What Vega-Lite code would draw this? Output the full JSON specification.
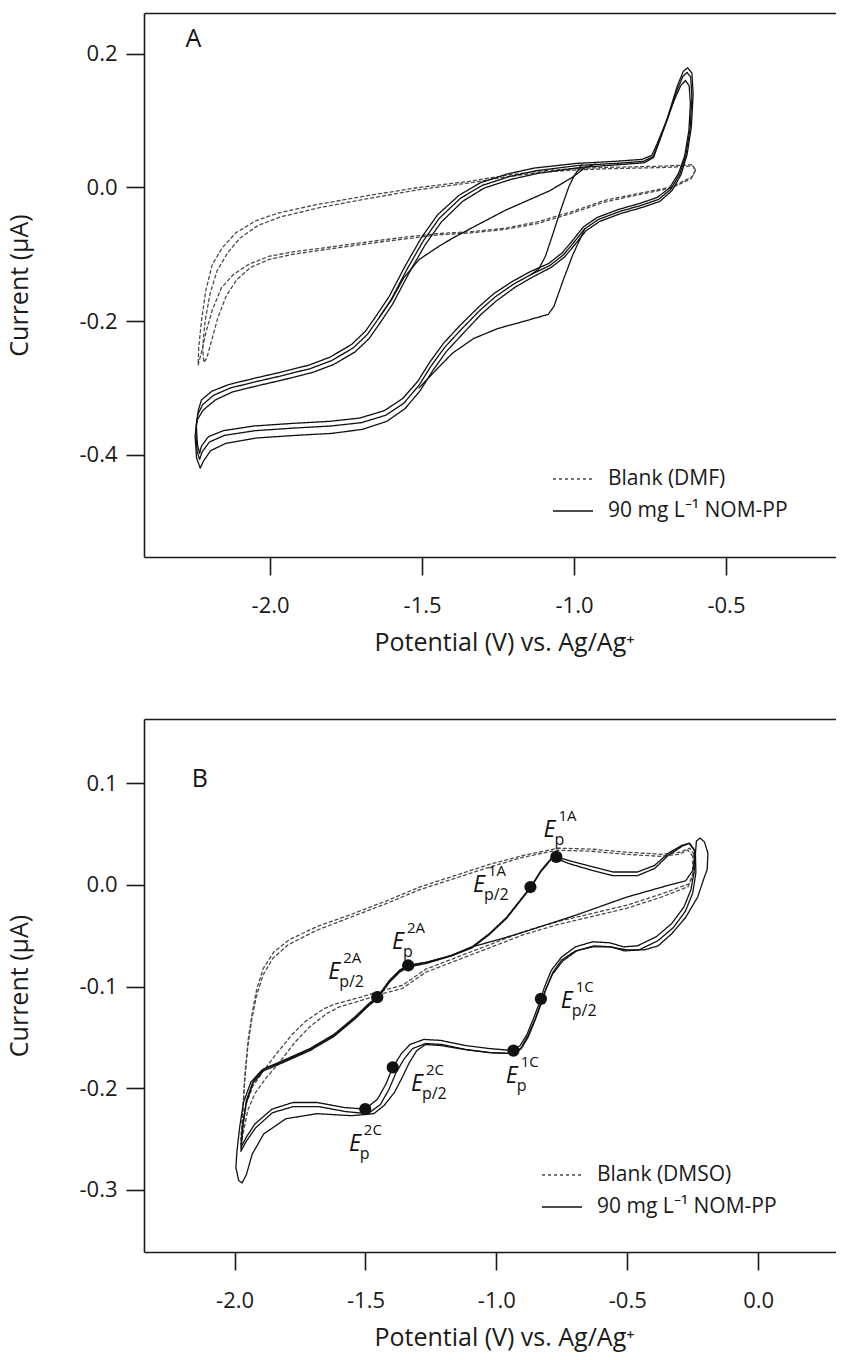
{
"$schema": "https://vega.github.io/schema/vega-lite/v6.json",
"padding": {"left": 7, "top": 13, "right": 0, "bottom": 10},
"background": "white",
"config": {
 "font": "Open Sans",
 "view": {"stroke": null},
 "concat": {"spacing": 64},
 "axis": {"grid": false, "domainColor": "#1a1a1a", "domainWidth": 1.6, "tickColor": "#1a1a1a", "tickWidth": 1.6, "tickSize": 18, "labelFont": "Open Sans", "labelFontSize": 22, "labelColor": "#1a1a1a", "titleFont": "Open Sans", "titleFontSize": 25, "titleFontWeight": "normal", "titleColor": "#1a1a1a"},
 "axisX": {"labelPadding": 20, "titlePadding": 14},
 "axisY": {"labelPadding": 9, "titlePadding": 46},
 "legend": {"labelFont": "Open Sans", "labelFontSize": 21, "labelColor": "#1a1a1a", "labelLimit": 400, "symbolType": "stroke", "symbolSize": 1600, "symbolStrokeWidth": 1.4, "labelOffset": 14, "rowPadding": 1, "padding": 0}
},
"resolve": {"scale": {"color": "independent", "strokeDash": "independent"}},
"datasets": {
"a": [
{"l":"b1","s":"blank","x":-0.600,"y":0.026},{"l":"b1","s":"blank","x":-0.611,"y":0.016},{"l":"b1","s":"blank","x":-0.677,"y":0.001},{"l":"b1","s":"blank","x":-0.786,"y":-0.009},{"l":"b1","s":"blank","x":-0.896,"y":-0.019},{"l":"b1","s":"blank","x":-1.006,"y":-0.036},{"l":"b1","s":"blank","x":-1.116,"y":-0.051},{"l":"b1","s":"blank","x":-1.225,"y":-0.061},{"l":"b1","s":"blank","x":-1.334,"y":-0.066},{"l":"b1","s":"blank","x":-1.444,"y":-0.069},{"l":"b1","s":"blank","x":-1.550,"y":-0.074},{"l":"b1","s":"blank","x":-1.655,"y":-0.080},{"l":"b1","s":"blank","x":-1.750,"y":-0.086},{"l":"b1","s":"blank","x":-1.832,"y":-0.091},{"l":"b1","s":"blank","x":-1.920,"y":-0.096},{"l":"b1","s":"blank","x":-2.003,"y":-0.103},{"l":"b1","s":"blank","x":-2.070,"y":-0.115},{"l":"b1","s":"blank","x":-2.120,"y":-0.130},{"l":"b1","s":"blank","x":-2.160,"y":-0.150},{"l":"b1","s":"blank","x":-2.190,"y":-0.183},{"l":"b1","s":"blank","x":-2.210,"y":-0.215},{"l":"b1","s":"blank","x":-2.225,"y":-0.245},{"l":"b1","s":"blank","x":-2.237,"y":-0.266},{"l":"b1","s":"blank","x":-2.235,"y":-0.240},{"l":"b1","s":"blank","x":-2.226,"y":-0.200},{"l":"b1","s":"blank","x":-2.212,"y":-0.155},{"l":"b1","s":"blank","x":-2.190,"y":-0.115},{"l":"b1","s":"blank","x":-2.157,"y":-0.090},{"l":"b1","s":"blank","x":-2.113,"y":-0.068},{"l":"b1","s":"blank","x":-2.048,"y":-0.050},{"l":"b1","s":"blank","x":-1.971,"y":-0.038},{"l":"b1","s":"blank","x":-1.839,"y":-0.025},{"l":"b1","s":"blank","x":-1.675,"y":-0.012},{"l":"b1","s":"blank","x":-1.510,"y":0.000},{"l":"b1","s":"blank","x":-1.346,"y":0.009},{"l":"b1","s":"blank","x":-1.225,"y":0.018},{"l":"b1","s":"blank","x":-1.100,"y":0.025},{"l":"b1","s":"blank","x":-1.006,"y":0.028},{"l":"b1","s":"blank","x":-0.900,"y":0.030},{"l":"b1","s":"blank","x":-0.786,"y":0.031},{"l":"b1","s":"blank","x":-0.700,"y":0.032},{"l":"b1","s":"blank","x":-0.611,"y":0.034},{"l":"b1","s":"blank","x":-0.600,"y":0.026},
{"l":"b2","s":"blank","x":-0.602,"y":0.024},{"l":"b2","s":"blank","x":-0.615,"y":0.013},{"l":"b2","s":"blank","x":-0.680,"y":-0.001},{"l":"b2","s":"blank","x":-0.790,"y":-0.011},{"l":"b2","s":"blank","x":-0.900,"y":-0.022},{"l":"b2","s":"blank","x":-1.010,"y":-0.039},{"l":"b2","s":"blank","x":-1.120,"y":-0.054},{"l":"b2","s":"blank","x":-1.230,"y":-0.063},{"l":"b2","s":"blank","x":-1.340,"y":-0.068},{"l":"b2","s":"blank","x":-1.450,"y":-0.071},{"l":"b2","s":"blank","x":-1.555,"y":-0.077},{"l":"b2","s":"blank","x":-1.660,"y":-0.083},{"l":"b2","s":"blank","x":-1.755,"y":-0.089},{"l":"b2","s":"blank","x":-1.835,"y":-0.094},{"l":"b2","s":"blank","x":-1.925,"y":-0.100},{"l":"b2","s":"blank","x":-2.005,"y":-0.108},{"l":"b2","s":"blank","x":-2.065,"y":-0.120},{"l":"b2","s":"blank","x":-2.110,"y":-0.138},{"l":"b2","s":"blank","x":-2.145,"y":-0.163},{"l":"b2","s":"blank","x":-2.172,"y":-0.195},{"l":"b2","s":"blank","x":-2.193,"y":-0.230},{"l":"b2","s":"blank","x":-2.208,"y":-0.255},{"l":"b2","s":"blank","x":-2.218,"y":-0.262},{"l":"b2","s":"blank","x":-2.222,"y":-0.240},{"l":"b2","s":"blank","x":-2.214,"y":-0.200},{"l":"b2","s":"blank","x":-2.198,"y":-0.160},{"l":"b2","s":"blank","x":-2.175,"y":-0.125},{"l":"b2","s":"blank","x":-2.140,"y":-0.098},{"l":"b2","s":"blank","x":-2.100,"y":-0.076},{"l":"b2","s":"blank","x":-2.040,"y":-0.057},{"l":"b2","s":"blank","x":-1.965,"y":-0.044},{"l":"b2","s":"blank","x":-1.835,"y":-0.030},{"l":"b2","s":"blank","x":-1.670,"y":-0.016},{"l":"b2","s":"blank","x":-1.505,"y":-0.003},{"l":"b2","s":"blank","x":-1.340,"y":0.007},{"l":"b2","s":"blank","x":-1.220,"y":0.016},{"l":"b2","s":"blank","x":-1.100,"y":0.023},{"l":"b2","s":"blank","x":-1.000,"y":0.026},{"l":"b2","s":"blank","x":-0.895,"y":0.028},{"l":"b2","s":"blank","x":-0.780,"y":0.029},{"l":"b2","s":"blank","x":-0.695,"y":0.030},{"l":"b2","s":"blank","x":-0.608,"y":0.032},{"l":"b2","s":"blank","x":-0.602,"y":0.024},
{"l":"s1","s":"nom","x":-2.243,"y":-0.355},{"l":"s1","s":"nom","x":-2.236,"y":-0.333},{"l":"s1","s":"nom","x":-2.226,"y":-0.318},{"l":"s1","s":"nom","x":-2.192,"y":-0.305},{"l":"s1","s":"nom","x":-2.136,"y":-0.295},{"l":"s1","s":"nom","x":-2.056,"y":-0.286},{"l":"s1","s":"nom","x":-1.979,"y":-0.278},{"l":"s1","s":"nom","x":-1.873,"y":-0.266},{"l":"s1","s":"nom","x":-1.803,"y":-0.254},{"l":"s1","s":"nom","x":-1.732,"y":-0.235},{"l":"s1","s":"nom","x":-1.686,"y":-0.215},{"l":"s1","s":"nom","x":-1.646,"y":-0.189},{"l":"s1","s":"nom","x":-1.608,"y":-0.163},{"l":"s1","s":"nom","x":-1.555,"y":-0.117},{"l":"s1","s":"nom","x":-1.502,"y":-0.075},{"l":"s1","s":"nom","x":-1.449,"y":-0.041},{"l":"s1","s":"nom","x":-1.379,"y":-0.012},{"l":"s1","s":"nom","x":-1.308,"y":0.007},{"l":"s1","s":"nom","x":-1.220,"y":0.020},{"l":"s1","s":"nom","x":-1.131,"y":0.029},{"l":"s1","s":"nom","x":-0.990,"y":0.036},{"l":"s1","s":"nom","x":-0.866,"y":0.039},{"l":"s1","s":"nom","x":-0.776,"y":0.042},{"l":"s1","s":"nom","x":-0.744,"y":0.048},{"l":"s1","s":"nom","x":-0.726,"y":0.066},{"l":"s1","s":"nom","x":-0.698,"y":0.097},{"l":"s1","s":"nom","x":-0.668,"y":0.133},{"l":"s1","s":"nom","x":-0.648,"y":0.153},{"l":"s1","s":"nom","x":-0.633,"y":0.160},{"l":"s1","s":"nom","x":-0.621,"y":0.152},{"l":"s1","s":"nom","x":-0.617,"y":0.125},{"l":"s1","s":"nom","x":-0.622,"y":0.085},{"l":"s1","s":"nom","x":-0.636,"y":0.047},{"l":"s1","s":"nom","x":-0.656,"y":0.021},{"l":"s1","s":"nom","x":-0.686,"y":-0.001},{"l":"s1","s":"nom","x":-0.726,"y":-0.015},{"l":"s1","s":"nom","x":-0.784,"y":-0.024},{"l":"s1","s":"nom","x":-0.854,"y":-0.033},{"l":"s1","s":"nom","x":-0.924,"y":-0.045},{"l":"s1","s":"nom","x":-0.969,"y":-0.059},{"l":"s1","s":"nom","x":-1.004,"y":-0.079},{"l":"s1","s":"nom","x":-1.039,"y":-0.098},{"l":"s1","s":"nom","x":-1.084,"y":-0.114},{"l":"s1","s":"nom","x":-1.144,"y":-0.126},{"l":"s1","s":"nom","x":-1.204,"y":-0.141},{"l":"s1","s":"nom","x":-1.264,"y":-0.159},{"l":"s1","s":"nom","x":-1.314,"y":-0.179},{"l":"s1","s":"nom","x":-1.374,"y":-0.206},{"l":"s1","s":"nom","x":-1.429,"y":-0.233},{"l":"s1","s":"nom","x":-1.474,"y":-0.261},{"l":"s1","s":"nom","x":-1.514,"y":-0.290},{"l":"s1","s":"nom","x":-1.564,"y":-0.316},{"l":"s1","s":"nom","x":-1.624,"y":-0.334},{"l":"s1","s":"nom","x":-1.704,"y":-0.345},{"l":"s1","s":"nom","x":-1.804,"y":-0.350},{"l":"s1","s":"nom","x":-1.924,"y":-0.353},{"l":"s1","s":"nom","x":-2.054,"y":-0.357},{"l":"s1","s":"nom","x":-2.154,"y":-0.364},{"l":"s1","s":"nom","x":-2.203,"y":-0.373},{"l":"s1","s":"nom","x":-2.226,"y":-0.387},{"l":"s1","s":"nom","x":-2.232,"y":-0.398},{"l":"s1","s":"nom","x":-2.239,"y":-0.385},{"l":"s1","s":"nom","x":-2.243,"y":-0.355},
{"l":"s2","s":"nom","x":-2.245,"y":-0.365},{"l":"s2","s":"nom","x":-2.238,"y":-0.340},{"l":"s2","s":"nom","x":-2.222,"y":-0.325},{"l":"s2","s":"nom","x":-2.186,"y":-0.311},{"l":"s2","s":"nom","x":-2.130,"y":-0.300},{"l":"s2","s":"nom","x":-2.050,"y":-0.291},{"l":"s2","s":"nom","x":-1.973,"y":-0.283},{"l":"s2","s":"nom","x":-1.867,"y":-0.271},{"l":"s2","s":"nom","x":-1.797,"y":-0.259},{"l":"s2","s":"nom","x":-1.726,"y":-0.240},{"l":"s2","s":"nom","x":-1.680,"y":-0.220},{"l":"s2","s":"nom","x":-1.640,"y":-0.194},{"l":"s2","s":"nom","x":-1.602,"y":-0.168},{"l":"s2","s":"nom","x":-1.549,"y":-0.122},{"l":"s2","s":"nom","x":-1.496,"y":-0.080},{"l":"s2","s":"nom","x":-1.443,"y":-0.046},{"l":"s2","s":"nom","x":-1.373,"y":-0.016},{"l":"s2","s":"nom","x":-1.302,"y":0.003},{"l":"s2","s":"nom","x":-1.214,"y":0.016},{"l":"s2","s":"nom","x":-1.125,"y":0.025},{"l":"s2","s":"nom","x":-0.984,"y":0.033},{"l":"s2","s":"nom","x":-0.860,"y":0.036},{"l":"s2","s":"nom","x":-0.772,"y":0.039},{"l":"s2","s":"nom","x":-0.740,"y":0.046},{"l":"s2","s":"nom","x":-0.722,"y":0.066},{"l":"s2","s":"nom","x":-0.694,"y":0.100},{"l":"s2","s":"nom","x":-0.663,"y":0.143},{"l":"s2","s":"nom","x":-0.642,"y":0.166},{"l":"s2","s":"nom","x":-0.628,"y":0.172},{"l":"s2","s":"nom","x":-0.616,"y":0.165},{"l":"s2","s":"nom","x":-0.612,"y":0.135},{"l":"s2","s":"nom","x":-0.618,"y":0.088},{"l":"s2","s":"nom","x":-0.632,"y":0.048},{"l":"s2","s":"nom","x":-0.652,"y":0.020},{"l":"s2","s":"nom","x":-0.682,"y":-0.003},{"l":"s2","s":"nom","x":-0.722,"y":-0.018},{"l":"s2","s":"nom","x":-0.780,"y":-0.027},{"l":"s2","s":"nom","x":-0.850,"y":-0.036},{"l":"s2","s":"nom","x":-0.920,"y":-0.048},{"l":"s2","s":"nom","x":-0.965,"y":-0.062},{"l":"s2","s":"nom","x":-1.000,"y":-0.082},{"l":"s2","s":"nom","x":-1.035,"y":-0.101},{"l":"s2","s":"nom","x":-1.080,"y":-0.117},{"l":"s2","s":"nom","x":-1.140,"y":-0.130},{"l":"s2","s":"nom","x":-1.200,"y":-0.145},{"l":"s2","s":"nom","x":-1.260,"y":-0.164},{"l":"s2","s":"nom","x":-1.310,"y":-0.184},{"l":"s2","s":"nom","x":-1.370,"y":-0.212},{"l":"s2","s":"nom","x":-1.425,"y":-0.239},{"l":"s2","s":"nom","x":-1.470,"y":-0.267},{"l":"s2","s":"nom","x":-1.510,"y":-0.296},{"l":"s2","s":"nom","x":-1.560,"y":-0.323},{"l":"s2","s":"nom","x":-1.620,"y":-0.341},{"l":"s2","s":"nom","x":-1.700,"y":-0.352},{"l":"s2","s":"nom","x":-1.800,"y":-0.357},{"l":"s2","s":"nom","x":-1.920,"y":-0.360},{"l":"s2","s":"nom","x":-2.050,"y":-0.364},{"l":"s2","s":"nom","x":-2.150,"y":-0.371},{"l":"s2","s":"nom","x":-2.200,"y":-0.381},{"l":"s2","s":"nom","x":-2.224,"y":-0.396},{"l":"s2","s":"nom","x":-2.232,"y":-0.407},{"l":"s2","s":"nom","x":-2.240,"y":-0.395},{"l":"s2","s":"nom","x":-2.245,"y":-0.365},
{"l":"s3","s":"nom","x":-2.247,"y":-0.372},{"l":"s3","s":"nom","x":-2.240,"y":-0.348},{"l":"s3","s":"nom","x":-2.220,"y":-0.333},{"l":"s3","s":"nom","x":-2.180,"y":-0.318},{"l":"s3","s":"nom","x":-2.124,"y":-0.306},{"l":"s3","s":"nom","x":-2.044,"y":-0.297},{"l":"s3","s":"nom","x":-1.967,"y":-0.289},{"l":"s3","s":"nom","x":-1.861,"y":-0.277},{"l":"s3","s":"nom","x":-1.791,"y":-0.265},{"l":"s3","s":"nom","x":-1.720,"y":-0.246},{"l":"s3","s":"nom","x":-1.674,"y":-0.226},{"l":"s3","s":"nom","x":-1.634,"y":-0.200},{"l":"s3","s":"nom","x":-1.596,"y":-0.174},{"l":"s3","s":"nom","x":-1.543,"y":-0.128},{"l":"s3","s":"nom","x":-1.490,"y":-0.086},{"l":"s3","s":"nom","x":-1.437,"y":-0.052},{"l":"s3","s":"nom","x":-1.367,"y":-0.021},{"l":"s3","s":"nom","x":-1.296,"y":-0.001},{"l":"s3","s":"nom","x":-1.208,"y":0.012},{"l":"s3","s":"nom","x":-1.119,"y":0.021},{"l":"s3","s":"nom","x":-0.978,"y":0.030},{"l":"s3","s":"nom","x":-0.854,"y":0.034},{"l":"s3","s":"nom","x":-0.768,"y":0.037},{"l":"s3","s":"nom","x":-0.738,"y":0.045},{"l":"s3","s":"nom","x":-0.720,"y":0.068},{"l":"s3","s":"nom","x":-0.692,"y":0.105},{"l":"s3","s":"nom","x":-0.660,"y":0.152},{"l":"s3","s":"nom","x":-0.640,"y":0.174},{"l":"s3","s":"nom","x":-0.626,"y":0.179},{"l":"s3","s":"nom","x":-0.612,"y":0.171},{"l":"s3","s":"nom","x":-0.608,"y":0.140},{"l":"s3","s":"nom","x":-0.614,"y":0.090},{"l":"s3","s":"nom","x":-0.628,"y":0.049},{"l":"s3","s":"nom","x":-0.648,"y":0.019},{"l":"s3","s":"nom","x":-0.678,"y":-0.005},{"l":"s3","s":"nom","x":-0.718,"y":-0.021},{"l":"s3","s":"nom","x":-0.776,"y":-0.030},{"l":"s3","s":"nom","x":-0.846,"y":-0.039},{"l":"s3","s":"nom","x":-0.916,"y":-0.051},{"l":"s3","s":"nom","x":-0.961,"y":-0.065},{"l":"s3","s":"nom","x":-0.996,"y":-0.085},{"l":"s3","s":"nom","x":-1.031,"y":-0.104},{"l":"s3","s":"nom","x":-1.076,"y":-0.120},{"l":"s3","s":"nom","x":-1.136,"y":-0.134},{"l":"s3","s":"nom","x":-1.196,"y":-0.150},{"l":"s3","s":"nom","x":-1.256,"y":-0.170},{"l":"s3","s":"nom","x":-1.306,"y":-0.190},{"l":"s3","s":"nom","x":-1.366,"y":-0.219},{"l":"s3","s":"nom","x":-1.421,"y":-0.246},{"l":"s3","s":"nom","x":-1.466,"y":-0.275},{"l":"s3","s":"nom","x":-1.506,"y":-0.304},{"l":"s3","s":"nom","x":-1.556,"y":-0.331},{"l":"s3","s":"nom","x":-1.616,"y":-0.350},{"l":"s3","s":"nom","x":-1.696,"y":-0.362},{"l":"s3","s":"nom","x":-1.796,"y":-0.368},{"l":"s3","s":"nom","x":-1.916,"y":-0.371},{"l":"s3","s":"nom","x":-2.046,"y":-0.375},{"l":"s3","s":"nom","x":-2.146,"y":-0.383},{"l":"s3","s":"nom","x":-2.196,"y":-0.394},{"l":"s3","s":"nom","x":-2.220,"y":-0.410},{"l":"s3","s":"nom","x":-2.230,"y":-0.420},{"l":"s3","s":"nom","x":-2.242,"y":-0.405},{"l":"s3","s":"nom","x":-2.247,"y":-0.372},
{"l":"t1","s":"nom","x":-1.640,"y":-0.194},{"l":"t1","s":"nom","x":-1.600,"y":-0.168},{"l":"t1","s":"nom","x":-1.560,"y":-0.135},{"l":"t1","s":"nom","x":-1.510,"y":-0.108},{"l":"t1","s":"nom","x":-1.444,"y":-0.088},{"l":"t1","s":"nom","x":-1.400,"y":-0.076},{"l":"t1","s":"nom","x":-1.334,"y":-0.060},{"l":"t1","s":"nom","x":-1.225,"y":-0.034},{"l":"t1","s":"nom","x":-1.150,"y":-0.019},{"l":"t1","s":"nom","x":-1.080,"y":-0.005},{"l":"t1","s":"nom","x":-1.006,"y":0.015},{"l":"t1","s":"nom","x":-0.962,"y":0.030},{"l":"t1","s":"nom","x":-0.930,"y":0.035},
{"l":"t2","s":"nom","x":-0.975,"y":0.034},{"l":"t2","s":"nom","x":-1.000,"y":0.017},{"l":"t2","s":"nom","x":-1.017,"y":0.001},{"l":"t2","s":"nom","x":-1.044,"y":-0.034},{"l":"t2","s":"nom","x":-1.072,"y":-0.073},{"l":"t2","s":"nom","x":-1.094,"y":-0.103},{"l":"t2","s":"nom","x":-1.116,"y":-0.122},{"l":"t2","s":"nom","x":-1.140,"y":-0.130},
{"l":"t3","s":"nom","x":-0.965,"y":-0.062},{"l":"t3","s":"nom","x":-0.975,"y":-0.072},{"l":"t3","s":"nom","x":-1.006,"y":-0.103},{"l":"t3","s":"nom","x":-1.039,"y":-0.143},{"l":"t3","s":"nom","x":-1.066,"y":-0.178},{"l":"t3","s":"nom","x":-1.085,"y":-0.190},{"l":"t3","s":"nom","x":-1.170,"y":-0.201},{"l":"t3","s":"nom","x":-1.250,"y":-0.211},{"l":"t3","s":"nom","x":-1.330,"y":-0.226},{"l":"t3","s":"nom","x":-1.400,"y":-0.248},{"l":"t3","s":"nom","x":-1.460,"y":-0.276},{"l":"t3","s":"nom","x":-1.510,"y":-0.300}
],
"b": [
{"l":"b1","s":"blank","x":-0.245,"y":0.030},{"l":"b1","s":"blank","x":-0.262,"y":0.036},{"l":"b1","s":"blank","x":-0.300,"y":0.032},{"l":"b1","s":"blank","x":-0.369,"y":0.030},{"l":"b1","s":"blank","x":-0.501,"y":0.032},{"l":"b1","s":"blank","x":-0.632,"y":0.035},{"l":"b1","s":"blank","x":-0.764,"y":0.036},{"l":"b1","s":"blank","x":-0.896,"y":0.029},{"l":"b1","s":"blank","x":-1.027,"y":0.020},{"l":"b1","s":"blank","x":-1.159,"y":0.009},{"l":"b1","s":"blank","x":-1.291,"y":-0.002},{"l":"b1","s":"blank","x":-1.422,"y":-0.016},{"l":"b1","s":"blank","x":-1.554,"y":-0.029},{"l":"b1","s":"blank","x":-1.685,"y":-0.041},{"l":"b1","s":"blank","x":-1.791,"y":-0.054},{"l":"b1","s":"blank","x":-1.850,"y":-0.066},{"l":"b1","s":"blank","x":-1.890,"y":-0.082},{"l":"b1","s":"blank","x":-1.915,"y":-0.102},{"l":"b1","s":"blank","x":-1.932,"y":-0.125},{"l":"b1","s":"blank","x":-1.947,"y":-0.150},{"l":"b1","s":"blank","x":-1.960,"y":-0.185},{"l":"b1","s":"blank","x":-1.968,"y":-0.219},{"l":"b1","s":"blank","x":-1.975,"y":-0.250},{"l":"b1","s":"blank","x":-1.968,"y":-0.237},{"l":"b1","s":"blank","x":-1.955,"y":-0.215},{"l":"b1","s":"blank","x":-1.930,"y":-0.198},{"l":"b1","s":"blank","x":-1.890,"y":-0.183},{"l":"b1","s":"blank","x":-1.843,"y":-0.167},{"l":"b1","s":"blank","x":-1.780,"y":-0.147},{"l":"b1","s":"blank","x":-1.728,"y":-0.134},{"l":"b1","s":"blank","x":-1.660,"y":-0.122},{"l":"b1","s":"blank","x":-1.614,"y":-0.117},{"l":"b1","s":"blank","x":-1.525,"y":-0.111},{"l":"b1","s":"blank","x":-1.436,"y":-0.104},{"l":"b1","s":"blank","x":-1.360,"y":-0.099},{"l":"b1","s":"blank","x":-1.270,"y":-0.083},{"l":"b1","s":"blank","x":-1.159,"y":-0.072},{"l":"b1","s":"blank","x":-1.027,"y":-0.059},{"l":"b1","s":"blank","x":-0.896,"y":-0.046},{"l":"b1","s":"blank","x":-0.764,"y":-0.036},{"l":"b1","s":"blank","x":-0.632,"y":-0.028},{"l":"b1","s":"blank","x":-0.501,"y":-0.020},{"l":"b1","s":"blank","x":-0.369,"y":-0.009},{"l":"b1","s":"blank","x":-0.264,"y":0.001},{"l":"b1","s":"blank","x":-0.245,"y":0.012},{"l":"b1","s":"blank","x":-0.245,"y":0.030},
{"l":"b2","s":"blank","x":-0.250,"y":0.028},{"l":"b2","s":"blank","x":-0.268,"y":0.034},{"l":"b2","s":"blank","x":-0.305,"y":0.030},{"l":"b2","s":"blank","x":-0.375,"y":0.028},{"l":"b2","s":"blank","x":-0.505,"y":0.030},{"l":"b2","s":"blank","x":-0.636,"y":0.033},{"l":"b2","s":"blank","x":-0.768,"y":0.034},{"l":"b2","s":"blank","x":-0.900,"y":0.027},{"l":"b2","s":"blank","x":-1.031,"y":0.017},{"l":"b2","s":"blank","x":-1.163,"y":0.006},{"l":"b2","s":"blank","x":-1.295,"y":-0.005},{"l":"b2","s":"blank","x":-1.426,"y":-0.019},{"l":"b2","s":"blank","x":-1.558,"y":-0.032},{"l":"b2","s":"blank","x":-1.689,"y":-0.045},{"l":"b2","s":"blank","x":-1.795,"y":-0.059},{"l":"b2","s":"blank","x":-1.853,"y":-0.072},{"l":"b2","s":"blank","x":-1.892,"y":-0.089},{"l":"b2","s":"blank","x":-1.917,"y":-0.110},{"l":"b2","s":"blank","x":-1.935,"y":-0.133},{"l":"b2","s":"blank","x":-1.950,"y":-0.160},{"l":"b2","s":"blank","x":-1.962,"y":-0.195},{"l":"b2","s":"blank","x":-1.970,"y":-0.228},{"l":"b2","s":"blank","x":-1.977,"y":-0.255},{"l":"b2","s":"blank","x":-1.966,"y":-0.243},{"l":"b2","s":"blank","x":-1.950,"y":-0.222},{"l":"b2","s":"blank","x":-1.922,"y":-0.205},{"l":"b2","s":"blank","x":-1.880,"y":-0.190},{"l":"b2","s":"blank","x":-1.830,"y":-0.175},{"l":"b2","s":"blank","x":-1.770,"y":-0.155},{"l":"b2","s":"blank","x":-1.715,"y":-0.140},{"l":"b2","s":"blank","x":-1.650,"y":-0.127},{"l":"b2","s":"blank","x":-1.600,"y":-0.120},{"l":"b2","s":"blank","x":-1.520,"y":-0.114},{"l":"b2","s":"blank","x":-1.436,"y":-0.107},{"l":"b2","s":"blank","x":-1.360,"y":-0.102},{"l":"b2","s":"blank","x":-1.270,"y":-0.086},{"l":"b2","s":"blank","x":-1.159,"y":-0.075},{"l":"b2","s":"blank","x":-1.027,"y":-0.062},{"l":"b2","s":"blank","x":-0.896,"y":-0.049},{"l":"b2","s":"blank","x":-0.764,"y":-0.039},{"l":"b2","s":"blank","x":-0.632,"y":-0.031},{"l":"b2","s":"blank","x":-0.501,"y":-0.023},{"l":"b2","s":"blank","x":-0.369,"y":-0.012},{"l":"b2","s":"blank","x":-0.268,"y":-0.002},{"l":"b2","s":"blank","x":-0.250,"y":0.010},{"l":"b2","s":"blank","x":-0.250,"y":0.028},
{"l":"s1","s":"nom","x":-1.991,"y":-0.262},{"l":"s1","s":"nom","x":-1.980,"y":-0.237},{"l":"s1","s":"nom","x":-1.966,"y":-0.214},{"l":"s1","s":"nom","x":-1.938,"y":-0.194},{"l":"s1","s":"nom","x":-1.895,"y":-0.182},{"l":"s1","s":"nom","x":-1.817,"y":-0.174},{"l":"s1","s":"nom","x":-1.712,"y":-0.162},{"l":"s1","s":"nom","x":-1.620,"y":-0.148},{"l":"s1","s":"nom","x":-1.541,"y":-0.131},{"l":"s1","s":"nom","x":-1.488,"y":-0.118},{"l":"s1","s":"nom","x":-1.455,"y":-0.111},{"l":"s1","s":"nom","x":-1.409,"y":-0.095},{"l":"s1","s":"nom","x":-1.370,"y":-0.085},{"l":"s1","s":"nom","x":-1.337,"y":-0.080},{"l":"s1","s":"nom","x":-1.264,"y":-0.076},{"l":"s1","s":"nom","x":-1.172,"y":-0.0695},{"l":"s1","s":"nom","x":-1.093,"y":-0.061},{"l":"s1","s":"nom","x":-0.980,"y":-0.053},{"l":"s1","s":"nom","x":-0.896,"y":-0.0465},{"l":"s1","s":"nom","x":-0.698,"y":-0.030},{"l":"s1","s":"nom","x":-0.501,"y":-0.012},{"l":"s1","s":"nom","x":-0.343,"y":-0.0005},{"l":"s1","s":"nom","x":-0.277,"y":0.004},{"l":"s1","s":"nom","x":-0.250,"y":0.014},{"l":"s1","s":"nom","x":-0.240,"y":0.030},{"l":"s1","s":"nom","x":-0.236,"y":0.043},{"l":"s1","s":"nom","x":-0.222,"y":0.046},{"l":"s1","s":"nom","x":-0.205,"y":0.042},{"l":"s1","s":"nom","x":-0.192,"y":0.031},{"l":"s1","s":"nom","x":-0.195,"y":0.015},{"l":"s1","s":"nom","x":-0.205,"y":0.008},{"l":"s1","s":"nom","x":-0.231,"y":-0.012},{"l":"s1","s":"nom","x":-0.277,"y":-0.032},{"l":"s1","s":"nom","x":-0.330,"y":-0.048},{"l":"s1","s":"nom","x":-0.382,"y":-0.060},{"l":"s1","s":"nom","x":-0.435,"y":-0.064},{"l":"s1","s":"nom","x":-0.501,"y":-0.064},{"l":"s1","s":"nom","x":-0.567,"y":-0.061},{"l":"s1","s":"nom","x":-0.632,"y":-0.061},{"l":"s1","s":"nom","x":-0.698,"y":-0.065},{"l":"s1","s":"nom","x":-0.751,"y":-0.074},{"l":"s1","s":"nom","x":-0.784,"y":-0.086},{"l":"s1","s":"nom","x":-0.810,"y":-0.102},{"l":"s1","s":"nom","x":-0.827,"y":-0.114},{"l":"s1","s":"nom","x":-0.852,"y":-0.132},{"l":"s1","s":"nom","x":-0.879,"y":-0.148},{"l":"s1","s":"nom","x":-0.905,"y":-0.160},{"l":"s1","s":"nom","x":-0.933,"y":-0.166},{"l":"s1","s":"nom","x":-1.027,"y":-0.165},{"l":"s1","s":"nom","x":-1.119,"y":-0.162},{"l":"s1","s":"nom","x":-1.212,"y":-0.158},{"l":"s1","s":"nom","x":-1.271,"y":-0.157},{"l":"s1","s":"nom","x":-1.304,"y":-0.163},{"l":"s1","s":"nom","x":-1.333,"y":-0.175},{"l":"s1","s":"nom","x":-1.359,"y":-0.189},{"l":"s1","s":"nom","x":-1.389,"y":-0.204},{"l":"s1","s":"nom","x":-1.429,"y":-0.217},{"l":"s1","s":"nom","x":-1.468,"y":-0.225},{"l":"s1","s":"nom","x":-1.554,"y":-0.227},{"l":"s1","s":"nom","x":-1.685,"y":-0.225},{"l":"s1","s":"nom","x":-1.804,"y":-0.230},{"l":"s1","s":"nom","x":-1.889,"y":-0.245},{"l":"s1","s":"nom","x":-1.933,"y":-0.265},{"l":"s1","s":"nom","x":-1.955,"y":-0.285},{"l":"s1","s":"nom","x":-1.971,"y":-0.293},{"l":"s1","s":"nom","x":-1.984,"y":-0.291},{"l":"s1","s":"nom","x":-1.995,"y":-0.278},{"l":"s1","s":"nom","x":-1.991,"y":-0.262},
{"l":"s2","s":"nom","x":-1.975,"y":-0.258},{"l":"s2","s":"nom","x":-1.968,"y":-0.235},{"l":"s2","s":"nom","x":-1.955,"y":-0.212},{"l":"s2","s":"nom","x":-1.929,"y":-0.193},{"l":"s2","s":"nom","x":-1.889,"y":-0.181},{"l":"s2","s":"nom","x":-1.817,"y":-0.173},{"l":"s2","s":"nom","x":-1.712,"y":-0.161},{"l":"s2","s":"nom","x":-1.620,"y":-0.147},{"l":"s2","s":"nom","x":-1.541,"y":-0.130},{"l":"s2","s":"nom","x":-1.488,"y":-0.117},{"l":"s2","s":"nom","x":-1.455,"y":-0.1105},{"l":"s2","s":"nom","x":-1.409,"y":-0.094},{"l":"s2","s":"nom","x":-1.370,"y":-0.084},{"l":"s2","s":"nom","x":-1.337,"y":-0.079},{"l":"s2","s":"nom","x":-1.264,"y":-0.076},{"l":"s2","s":"nom","x":-1.172,"y":-0.0695},{"l":"s2","s":"nom","x":-1.093,"y":-0.061},{"l":"s2","s":"nom","x":-1.027,"y":-0.048},{"l":"s2","s":"nom","x":-0.961,"y":-0.032},{"l":"s2","s":"nom","x":-0.909,"y":-0.015},{"l":"s2","s":"nom","x":-0.869,"y":-0.002},{"l":"s2","s":"nom","x":-0.830,"y":0.014},{"l":"s2","s":"nom","x":-0.790,"y":0.026},{"l":"s2","s":"nom","x":-0.771,"y":0.0274},{"l":"s2","s":"nom","x":-0.725,"y":0.024},{"l":"s2","s":"nom","x":-0.632,"y":0.0176},{"l":"s2","s":"nom","x":-0.554,"y":0.0126},{"l":"s2","s":"nom","x":-0.461,"y":0.0126},{"l":"s2","s":"nom","x":-0.396,"y":0.019},{"l":"s2","s":"nom","x":-0.343,"y":0.031},{"l":"s2","s":"nom","x":-0.290,"y":0.039},{"l":"s2","s":"nom","x":-0.264,"y":0.0406},{"l":"s2","s":"nom","x":-0.244,"y":0.034},{"l":"s2","s":"nom","x":-0.244,"y":0.014},{"l":"s2","s":"nom","x":-0.257,"y":-0.005},{"l":"s2","s":"nom","x":-0.284,"y":-0.022},{"l":"s2","s":"nom","x":-0.330,"y":-0.038},{"l":"s2","s":"nom","x":-0.389,"y":-0.051},{"l":"s2","s":"nom","x":-0.461,"y":-0.060},{"l":"s2","s":"nom","x":-0.514,"y":-0.061},{"l":"s2","s":"nom","x":-0.567,"y":-0.057},{"l":"s2","s":"nom","x":-0.632,"y":-0.056},{"l":"s2","s":"nom","x":-0.698,"y":-0.061},{"l":"s2","s":"nom","x":-0.751,"y":-0.071},{"l":"s2","s":"nom","x":-0.790,"y":-0.084},{"l":"s2","s":"nom","x":-0.817,"y":-0.101},{"l":"s2","s":"nom","x":-0.830,"y":-0.112},{"l":"s2","s":"nom","x":-0.856,"y":-0.130},{"l":"s2","s":"nom","x":-0.883,"y":-0.147},{"l":"s2","s":"nom","x":-0.909,"y":-0.158},{"l":"s2","s":"nom","x":-0.935,"y":-0.163},{"l":"s2","s":"nom","x":-1.027,"y":-0.161},{"l":"s2","s":"nom","x":-1.119,"y":-0.158},{"l":"s2","s":"nom","x":-1.212,"y":-0.153},{"l":"s2","s":"nom","x":-1.277,"y":-0.152},{"l":"s2","s":"nom","x":-1.330,"y":-0.157},{"l":"s2","s":"nom","x":-1.363,"y":-0.166},{"l":"s2","s":"nom","x":-1.396,"y":-0.1795},{"l":"s2","s":"nom","x":-1.422,"y":-0.196},{"l":"s2","s":"nom","x":-1.455,"y":-0.211},{"l":"s2","s":"nom","x":-1.501,"y":-0.2205},{"l":"s2","s":"nom","x":-1.580,"y":-0.219},{"l":"s2","s":"nom","x":-1.685,"y":-0.214},{"l":"s2","s":"nom","x":-1.777,"y":-0.214},{"l":"s2","s":"nom","x":-1.857,"y":-0.2205},{"l":"s2","s":"nom","x":-1.922,"y":-0.235},{"l":"s2","s":"nom","x":-1.955,"y":-0.248},{"l":"s2","s":"nom","x":-1.975,"y":-0.258},
{"l":"s3","s":"nom","x":-1.976,"y":-0.262},{"l":"s3","s":"nom","x":-1.969,"y":-0.238},{"l":"s3","s":"nom","x":-1.956,"y":-0.215},{"l":"s3","s":"nom","x":-1.930,"y":-0.195},{"l":"s3","s":"nom","x":-1.890,"y":-0.183},{"l":"s3","s":"nom","x":-1.817,"y":-0.175},{"l":"s3","s":"nom","x":-1.712,"y":-0.163},{"l":"s3","s":"nom","x":-1.620,"y":-0.149},{"l":"s3","s":"nom","x":-1.541,"y":-0.132},{"l":"s3","s":"nom","x":-1.488,"y":-0.119},{"l":"s3","s":"nom","x":-1.455,"y":-0.112},{"l":"s3","s":"nom","x":-1.409,"y":-0.096},{"l":"s3","s":"nom","x":-1.370,"y":-0.086},{"l":"s3","s":"nom","x":-1.337,"y":-0.081},{"l":"s3","s":"nom","x":-1.264,"y":-0.077},{"l":"s3","s":"nom","x":-1.172,"y":-0.070},{"l":"s3","s":"nom","x":-1.093,"y":-0.062},{"l":"s3","s":"nom","x":-1.027,"y":-0.049},{"l":"s3","s":"nom","x":-0.961,"y":-0.033},{"l":"s3","s":"nom","x":-0.909,"y":-0.016},{"l":"s3","s":"nom","x":-0.869,"y":-0.003},{"l":"s3","s":"nom","x":-0.830,"y":0.013},{"l":"s3","s":"nom","x":-0.790,"y":0.025},{"l":"s3","s":"nom","x":-0.771,"y":0.026},{"l":"s3","s":"nom","x":-0.725,"y":0.021},{"l":"s3","s":"nom","x":-0.632,"y":0.014},{"l":"s3","s":"nom","x":-0.554,"y":0.009},{"l":"s3","s":"nom","x":-0.461,"y":0.009},{"l":"s3","s":"nom","x":-0.396,"y":0.016},{"l":"s3","s":"nom","x":-0.343,"y":0.029},{"l":"s3","s":"nom","x":-0.290,"y":0.038},{"l":"s3","s":"nom","x":-0.262,"y":0.041},{"l":"s3","s":"nom","x":-0.240,"y":0.033},{"l":"s3","s":"nom","x":-0.238,"y":0.012},{"l":"s3","s":"nom","x":-0.250,"y":-0.008},{"l":"s3","s":"nom","x":-0.278,"y":-0.026},{"l":"s3","s":"nom","x":-0.324,"y":-0.042},{"l":"s3","s":"nom","x":-0.383,"y":-0.055},{"l":"s3","s":"nom","x":-0.455,"y":-0.064},{"l":"s3","s":"nom","x":-0.510,"y":-0.065},{"l":"s3","s":"nom","x":-0.563,"y":-0.061},{"l":"s3","s":"nom","x":-0.628,"y":-0.060},{"l":"s3","s":"nom","x":-0.694,"y":-0.065},{"l":"s3","s":"nom","x":-0.747,"y":-0.075},{"l":"s3","s":"nom","x":-0.786,"y":-0.088},{"l":"s3","s":"nom","x":-0.813,"y":-0.104},{"l":"s3","s":"nom","x":-0.826,"y":-0.115},{"l":"s3","s":"nom","x":-0.852,"y":-0.133},{"l":"s3","s":"nom","x":-0.879,"y":-0.150},{"l":"s3","s":"nom","x":-0.905,"y":-0.161},{"l":"s3","s":"nom","x":-0.931,"y":-0.166},{"l":"s3","s":"nom","x":-1.023,"y":-0.165},{"l":"s3","s":"nom","x":-1.115,"y":-0.162},{"l":"s3","s":"nom","x":-1.208,"y":-0.157},{"l":"s3","s":"nom","x":-1.270,"y":-0.156},{"l":"s3","s":"nom","x":-1.320,"y":-0.161},{"l":"s3","s":"nom","x":-1.352,"y":-0.171},{"l":"s3","s":"nom","x":-1.384,"y":-0.185},{"l":"s3","s":"nom","x":-1.410,"y":-0.201},{"l":"s3","s":"nom","x":-1.443,"y":-0.216},{"l":"s3","s":"nom","x":-1.490,"y":-0.225},{"l":"s3","s":"nom","x":-1.575,"y":-0.223},{"l":"s3","s":"nom","x":-1.680,"y":-0.218},{"l":"s3","s":"nom","x":-1.775,"y":-0.218},{"l":"s3","s":"nom","x":-1.855,"y":-0.224},{"l":"s3","s":"nom","x":-1.920,"y":-0.239},{"l":"s3","s":"nom","x":-1.955,"y":-0.252},{"l":"s3","s":"nom","x":-1.976,"y":-0.262}
],
"bpk": [
{"x":-0.771,"y":0.0274},{"x":-0.870,"y":-0.0022},{"x":-1.337,"y":-0.0793},{"x":-1.455,"y":-0.1105},{"x":-0.830,"y":-0.1121},{"x":-0.935,"y":-0.163},{"x":-1.396,"y":-0.1795},{"x":-1.501,"y":-0.2205}
],
"blab": [
{"x":-0.797,"y":0.0543,"sup":"1A","sub":"p"},
{"x":-1.0668,"y":-0.0005,"sup":"1A","sub":"p/2"},
{"x":-1.3761,"y":-0.0563,"sup":"2A","sub":"p"},
{"x":-1.6195,"y":-0.0859,"sup":"2A","sub":"p/2"},
{"x":-0.7311,"y":-0.1138,"sup":"1C","sub":"p/2"},
{"x":-0.9417,"y":-0.1877,"sup":"1C","sub":"p"},
{"x":-1.3037,"y":-0.1959,"sup":"2C","sub":"p/2"},
{"x":-1.5406,"y":-0.2550,"sup":"2C","sub":"p"}
]
},
"vconcat": [
{
 "width": 692, "height": 544,
 "resolve": {"axis": {"x": "independent"}},
 "layer": [
  {
   "data": {"name": "a"},
   "mark": {"type": "line", "strokeWidth": 1.3, "strokeJoin": "round", "strokeCap": "round"},
   "encoding": {
    "x": {"field": "x", "type": "quantitative", "scale": {"domain": [-2.415, -0.1379], "nice": false, "zero": false}, "axis": {"orient": "bottom", "values": [-2, -1.5, -1, -0.5], "labelExpr": "replace(format(datum.value, '.1f'), '−', '-')", "title": "Potential (V) vs. Ag/Ag⁺", "titleX": 360}},
    "y": {"field": "y", "type": "quantitative", "title": "Current (μA)", "scale": {"domain": [-0.553, 0.261], "nice": false, "zero": false}, "axis": {"values": [-0.4, -0.2, 0, 0.2], "labelExpr": "replace(format(datum.value, '.1f'), '−', '-')"}},
    "detail": {"field": "l", "type": "nominal"},
    "order": {"value": null},
    "color": {"field": "s", "type": "nominal", "scale": {"domain": ["blank", "nom"], "range": ["#4a4a4a", "#111111"]}, "legend": {"title": null, "orient": "none", "legendX": 408, "legendY": 445, "labelExpr": "datum.label == 'blank' ? 'Blank (DMF)' : '90 mg L⁻¹ NOM-PP'"}},
    "strokeDash": {"field": "s", "type": "nominal", "scale": {"domain": ["blank", "nom"], "range": [[3, 3], [1, 0]]}, "legend": {"title": null, "orient": "none", "legendX": 408, "legendY": 445, "labelExpr": "datum.label == 'blank' ? 'Blank (DMF)' : '90 mg L⁻¹ NOM-PP'"}}
   }
  },
  {
   "data": {"values": [{"x": -2.2527, "y": 0.222, "t": "A"}]},
   "mark": {"type": "text", "fontSize": 25, "font": "Open Sans", "align": "center", "baseline": "middle", "color": "#111"},
   "encoding": {
    "x": {"field": "x", "type": "quantitative", "axis": {"orient": "top", "labels": false, "ticks": false, "title": null, "domain": true}},
    "y": {"field": "y", "type": "quantitative", "title": "Current (μA)"},
    "text": {"field": "t"}
   }
  }
 ]
},
{
 "width": 692, "height": 533,
 "resolve": {"axis": {"x": "independent"}},
 "layer": [
  {
   "data": {"name": "b"},
   "mark": {"type": "line", "strokeWidth": 1.3, "strokeJoin": "round", "strokeCap": "round"},
   "encoding": {
    "x": {"field": "x", "type": "quantitative", "scale": {"domain": [-2.346, 0.2972], "nice": false, "zero": false}, "axis": {"orient": "bottom", "values": [-2, -1.5, -1, -0.5, 0], "labelExpr": "replace(format(datum.value, '.1f'), '−', '-')", "title": "Potential (V) vs. Ag/Ag⁺", "titleX": 360}},
    "y": {"field": "y", "type": "quantitative", "title": "Current (μA)", "scale": {"domain": [-0.361, 0.163], "nice": false, "zero": false}, "axis": {"values": [-0.3, -0.2, -0.1, 0, 0.1], "labelExpr": "replace(format(datum.value, '.1f'), '−', '-')"}},
    "detail": {"field": "l", "type": "nominal"},
    "order": {"value": null},
    "color": {"field": "s", "type": "nominal", "scale": {"domain": ["blank", "nom"], "range": ["#4a4a4a", "#111111"]}, "legend": {"title": null, "orient": "none", "legendX": 397, "legendY": 435, "labelExpr": "datum.label == 'blank' ? 'Blank (DMSO)' : '90 mg L⁻¹ NOM-PP'"}},
    "strokeDash": {"field": "s", "type": "nominal", "scale": {"domain": ["blank", "nom"], "range": [[3, 3], [1, 0]]}, "legend": {"title": null, "orient": "none", "legendX": 397, "legendY": 435, "labelExpr": "datum.label == 'blank' ? 'Blank (DMSO)' : '90 mg L⁻¹ NOM-PP'"}}
   }
  },
  {
   "data": {"name": "bpk"},
   "mark": {"type": "circle", "size": 150, "color": "#111", "opacity": 1},
   "encoding": {
    "x": {"field": "x", "type": "quantitative", "axis": {"orient": "top", "labels": false, "ticks": false, "title": null, "domain": true}},
    "y": {"field": "y", "type": "quantitative", "title": "Current (μA)"}
   }
  },
  {
   "data": {"values": [{"x": -2.133, "y": 0.104, "t": "B"}]},
   "mark": {"type": "text", "fontSize": 25, "font": "Open Sans", "align": "center", "baseline": "middle", "color": "#111"},
   "encoding": {
    "x": {"field": "x", "type": "quantitative", "axis": null},
    "y": {"field": "y", "type": "quantitative", "title": "Current (μA)"},
    "text": {"field": "t"}
   }
  },
  {
   "data": {"name": "blab"},
   "mark": {"type": "text", "text": "E", "fontStyle": "italic", "fontSize": 23, "font": "Open Sans", "align": "center", "baseline": "middle", "color": "#111"},
   "encoding": {
    "x": {"field": "x", "type": "quantitative", "axis": null},
    "y": {"field": "y", "type": "quantitative", "title": "Current (μA)"}
   }
  },
  {
   "data": {"name": "blab"},
   "mark": {"type": "text", "fontSize": 15, "font": "Open Sans", "align": "left", "baseline": "middle", "dx": 9, "dy": -14, "color": "#111"},
   "encoding": {
    "x": {"field": "x", "type": "quantitative", "axis": null},
    "y": {"field": "y", "type": "quantitative", "title": "Current (μA)"},
    "text": {"field": "sup"}
   }
  },
  {
   "data": {"name": "blab"},
   "mark": {"type": "text", "fontSize": 16, "font": "Open Sans", "align": "left", "baseline": "middle", "dx": 5, "dy": 10, "color": "#111"},
   "encoding": {
    "x": {"field": "x", "type": "quantitative", "axis": null},
    "y": {"field": "y", "type": "quantitative", "title": "Current (μA)"},
    "text": {"field": "sub"}
   }
  }
 ]
}
]
}
